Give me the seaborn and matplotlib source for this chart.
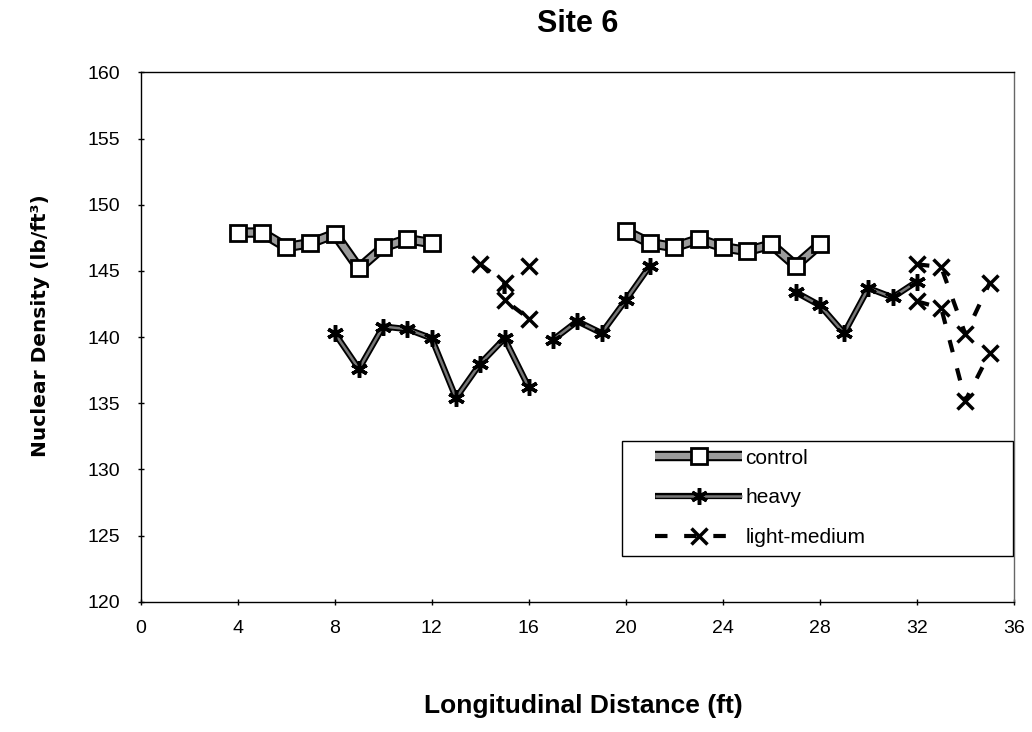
import pandas as pd
import matplotlib
matplotlib.use("Agg")
import matplotlib.pyplot as plt
from matplotlib.lines import Line2D
from matplotlib.patches import Rectangle
from matplotlib.legend_handler import HandlerTuple
import seaborn as sns

# control sections (two runs of measurements)
control_x = [4, 5, 6, 7, 8, 9, 10, 11, 12,
             20, 21, 22, 23, 24, 25, 26, 27, 28]
control_y = [147.9, 147.9, 146.8, 147.1, 147.8, 145.2, 146.8, 147.4, 147.1,
             148.0, 147.1, 146.8, 147.4, 146.8, 146.5, 147.0, 145.4, 147.0]
control_seg = [0] * 9 + [1] * 9

# heavy traffic sections
heavy_x = [8, 9, 10, 11, 12, 13, 14, 15, 16,
           17, 18, 19, 20, 21,
           27, 28, 29, 30, 31, 32]
heavy_y = [140.3, 137.6, 140.8, 140.6, 139.9, 135.4, 138.0, 139.9, 136.2,
           139.8, 141.2, 140.3, 142.8, 145.4,
           143.4, 142.4, 140.3, 143.7, 143.0, 144.2]
heavy_seg = [0] * 9 + [1] * 5 + [2] * 6

# light-medium traffic sections
light_x = [14, 15, 15, 16, 16, 32, 33, 34, 35, 32, 33, 34, 35]
light_y = [145.5, 144.1, 142.8, 141.4, 145.4,
           145.5, 145.3, 140.2, 144.1,
           142.7, 142.2, 135.2, 138.8]
light_seg = [0, 0, 0, 0, 1, 2, 2, 2, 2, 3, 3, 3, 3]

x_ticks = list(range(0, 37, 4))
y_ticks = list(range(120, 161, 5))

sns.set_theme(style="white")
plt.rcParams['font.family'] = ['Liberation Sans', 'DejaVu Sans']
plt.rcParams['text.color'] = 'black'
plt.rcParams['axes.labelcolor'] = 'black'
plt.rcParams['xtick.color'] = 'black'
plt.rcParams['ytick.color'] = 'black'

control = pd.DataFrame({'x': control_x, 'y': control_y, 'seg': control_seg})
heavy = pd.DataFrame({'x': heavy_x, 'y': heavy_y, 'seg': heavy_seg})
light = pd.DataFrame({'x': light_x, 'y': light_y, 'seg': light_seg})

fig = plt.figure(figsize=(10.32, 7.32), dpi=100)
ax = fig.add_axes([0.1363, 0.178, 0.8462, 0.7230])

GREY = '#9a9a9a'
ASTERISK = (6, 2, 0)
common = dict(x='x', y='y', units='seg', estimator=None, sort=False,
              legend=False, ax=ax)

# light-medium: dashed line with x markers
sns.lineplot(data=light, color='black', linewidth=3, linestyle=(0, (3, 4)),
             marker='x', markersize=11, markeredgecolor='black',
             markeredgewidth=2.5, zorder=2, **common)

# heavy: dark outlined line with asterisks
sns.lineplot(data=heavy, color='black', linewidth=4.5, zorder=3, **common)
sns.lineplot(data=heavy, color='#777777', linewidth=1.8, marker=ASTERISK,
             markersize=12, markeredgecolor='black', markeredgewidth=2.5,
             zorder=3, **common)

# control: thick grey line with black border and open squares
sns.lineplot(data=control, color='black', linewidth=7.5, zorder=4, **common)
sns.lineplot(data=control, color=GREY, linewidth=4.5, marker='s',
             markersize=11, markerfacecolor='white', markeredgecolor='black',
             markeredgewidth=2, zorder=4, **common)

ax.set_xlim(0, 36)
ax.set_ylim(120, 160)
ax.set_xticks(x_ticks)
ax.set_yticks(y_ticks)
ax.tick_params(axis='both', direction='inout', length=5, width=1,
               color='black', labelsize=14, labelcolor='black')
ax.tick_params(axis='x', pad=11)
ax.tick_params(axis='y', pad=12.5)
ax.xaxis.set_ticks_position('bottom')
ax.yaxis.set_ticks_position('left')
for side in ['left', 'bottom', 'top']:
    ax.spines[side].set_color('black')
    ax.spines[side].set_linewidth(1)
ax.spines['right'].set_color('#666666')
ax.spines['right'].set_linewidth(1)
ax.grid(False)

ax.set_title('Site 6', fontsize=22, fontweight='bold', pad=29, color='black')
ax.set_xlabel('Longitudinal Distance (ft)', fontsize=19, fontweight='bold')
ax.xaxis.set_label_coords(0.5065, -0.1744)
ax.set_ylabel('Nuclear Density (lb/ft\u00b3)', fontsize=14.5,
              fontweight='bold', family=['DejaVu Sans'])
ax.yaxis.set_label_coords(-0.104, 0.521)

# legend
control_handle = (Line2D([], [], color='black', lw=7.5, solid_capstyle='butt'),
                  Line2D([], [], color=GREY, lw=4.5, marker='s', ms=11,
                         mfc='white', mec='black', mew=2,
                         solid_capstyle='butt'))
heavy_handle = (Line2D([], [], color='black', lw=4.5, solid_capstyle='butt'),
                Line2D([], [], color='#777777', lw=1.8, marker=ASTERISK,
                       ms=12, mec='black', mew=2.5, solid_capstyle='butt'))
light_handle = Line2D([], [], color='black', lw=3, linestyle=(0, (3, 4)),
                      marker='x', ms=11, mec='black', mew=2.5,
                      dash_capstyle='butt')
ax.legend([control_handle, heavy_handle, light_handle],
          ['control', 'heavy', 'light-medium'],
          handler_map={tuple: HandlerTuple(ndivide=1)},
          loc='upper left', bbox_to_anchor=(0.5889, 0.2893),
          frameon=False, borderpad=0, borderaxespad=0,
          handlelength=4.2, handletextpad=0.15, labelspacing=1.0,
          fontsize=15)
ax.add_patch(Rectangle((0.5508, 0.0864), 0.448, 0.2178,
                       transform=ax.transAxes, fill=False,
                       edgecolor='black', linewidth=1, zorder=5))

fig.savefig('out.png', dpi=100)
